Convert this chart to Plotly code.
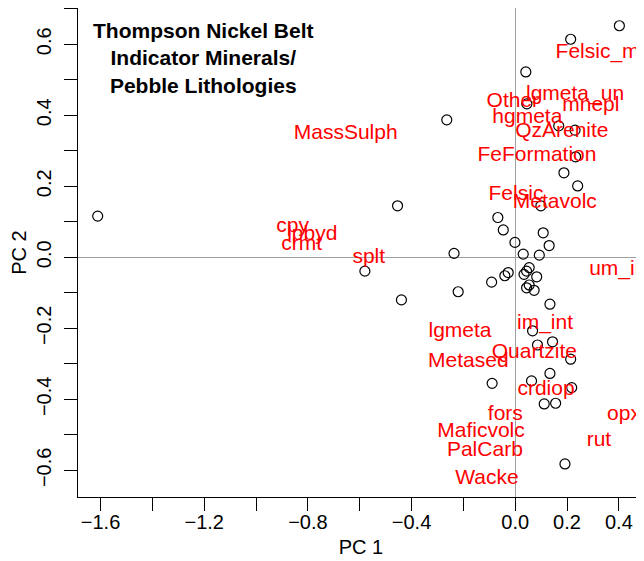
import plotly.graph_objects as go

# Sample scores (black open circles)
pc1 = [-1.611, 0.402, 0.214, 0.041, -0.264, 0.045, 0.168, 0.231, 0.233, 0.188,
       0.241, -0.454, 0.099, -0.067, -0.046, 0.108, -0.001, 0.131, 0.031, 0.093,
       -0.236, -0.580, 0.054, 0.044, -0.027, -0.040, 0.034, 0.083, -0.091, 0.054,
       0.044, 0.073, -0.220, -0.439, 0.134, 0.067, 0.144, 0.086, 0.214, 0.134,
       0.063, -0.089, 0.218, 0.112, 0.156, 0.192]
pc2 = [0.116, 0.652, 0.614, 0.522, 0.387, 0.432, 0.370, 0.358, 0.283, 0.238,
       0.201, 0.145, 0.145, 0.112, 0.077, 0.069, 0.042, 0.033, 0.009, 0.006,
       0.011, -0.039, -0.029, -0.039, -0.043, -0.052, -0.048, -0.055, -0.070, -0.078,
       -0.086, -0.093, -0.097, -0.120, -0.132, -0.207, -0.238, -0.247, -0.287, -0.327,
       -0.348, -0.355, -0.367, -0.413, -0.411, -0.582]

# Variable labels (red text)
var_names = ["Felsic_m", "lgmeta_un", "mnepl", "Other", "hgmeta", "QzArenite",
             "MassSulph", "FeFormation", "Felsic", "Metavolc", "cpy", "lpbyd",
             "crmt", "splt", "um_int", "im_int", "lgmeta", "Quartzite", "Metased",
             "crdiop", "fors", "opx", "Maficvolc", "rut", "PalCarb", "Wacke"]
var_x = [0.318, 0.231, 0.292, -0.009, 0.047, 0.180,
         -0.654, 0.084, 0.003, 0.153, -0.859, -0.783,
         -0.824, -0.565, 0.407, 0.115, -0.213, 0.074, -0.181,
         0.119, -0.038, 0.420, -0.132, 0.323, -0.117, -0.109]
var_y = [0.576, 0.457, 0.426, 0.438, 0.392, 0.354,
         0.349, 0.285, 0.175, 0.154, 0.085, 0.064,
         0.034, -0.001, -0.034, -0.186, -0.210, -0.270, -0.294,
         -0.372, -0.444, -0.444, -0.491, -0.517, -0.545, -0.623]

x_tickvals = [-1.6, -1.4, -1.2, -1.0, -0.8, -0.6, -0.4, -0.2, 0.0, 0.2, 0.4]
x_ticktext = ["\u22121.6", "", "\u22121.2", "", "\u22120.8", "", "\u22120.4", "", "0.0", "0.2", "0.4"]
y_tickvals = [-0.6, -0.5, -0.4, -0.3, -0.2, -0.1, 0.0, 0.1, 0.2, 0.3, 0.4, 0.5, 0.6, 0.7]
y_ticktext = ["\u22120.6", "", "\u22120.4", "", "\u22120.2", "", "0.0", "", "0.2", "", "0.4", "", "0.6", ""]

title_text = "Thompson Nickel Belt<br>Indicator Minerals/<br>Pebble Lithologies"

FONT = "Liberation Sans, Arial, Helvetica, sans-serif"

fig = go.Figure()
fig.add_trace(go.Scatter(
    x=pc1, y=pc2, mode="markers",
    marker=dict(symbol="circle-open", size=10, color="black", line=dict(width=1.2, color="black")),
    showlegend=False, hoverinfo="skip"))
fig.add_trace(go.Scatter(
    x=var_x, y=var_y, mode="text", text=var_names,
    textposition="middle center",
    textfont=dict(family=FONT, size=21, color="#ff0000"),
    showlegend=False, hoverinfo="skip"))

# page body adds an 8px offset, so the figure is 8px smaller and shifted
fig.update_layout(
    width=636, height=553, autosize=False,
    margin=dict(l=70, r=0, t=0, b=64),
    paper_bgcolor="white", plot_bgcolor="white",
    font=dict(family=FONT, size=20, color="black"),
    xaxis=dict(range=[-1.687, 0.497], tickvals=x_tickvals, ticktext=x_ticktext,
               ticks="outside", ticklen=13, tickwidth=1, tickcolor="black",
               ticklabelstandoff=-6,
               showline=True, linecolor="black", linewidth=1, mirror=True,
               showgrid=False, zeroline=True, zerolinecolor="#a0a0a0", zerolinewidth=1,
               tickfont=dict(size=20), title=dict(text="PC 1", font=dict(size=20), standoff=7)),
    yaxis=dict(range=[-0.675, 0.702], tickvals=y_tickvals, ticktext=y_ticktext,
               ticks="outside", ticklen=13, tickwidth=1, tickcolor="black", tickangle=-90,
               ticklabelstandoff=5,
               showline=True, linecolor="black", linewidth=1, mirror=False,
               showgrid=False, zeroline=True, zerolinecolor="#a0a0a0", zerolinewidth=1,
               tickfont=dict(size=20), title=dict(text="PC 2", font=dict(size=20), standoff=2)),
    annotations=[dict(text="<b>" + title_text + "</b>", xref="paper", yref="paper",
                      x=0.222, y=0.898, xanchor="center", yanchor="middle", align="center",
                      showarrow=False, font=dict(family=FONT, size=21, color="black"))],
)

fig.write_html("out.html")
